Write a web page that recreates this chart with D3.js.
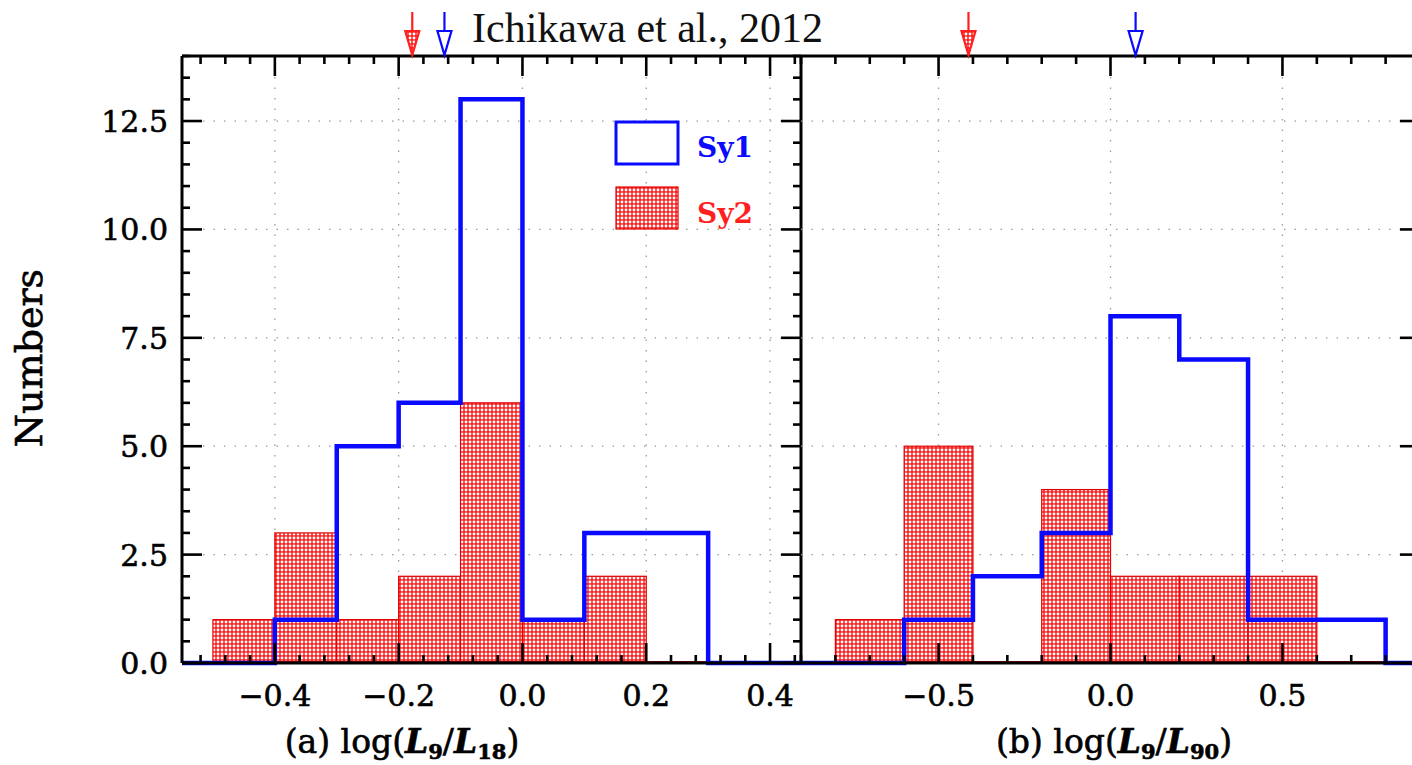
<!DOCTYPE html>
<html>
<head>
<meta charset="utf-8">
<script src="https://cdn.jsdelivr.net/npm/d3@7"></script>
<style>
  html, body { margin: 0; padding: 0; background: #fff; overflow: hidden; }
  svg { display: block; }
</style>
</head>
<body>
<svg id="chart" width="1412" height="765"></svg>
<script>
// ---- data ----
// panel (a): log(L9/L18), bin width 0.1
const edgesA = [-0.5, -0.4, -0.3, -0.2, -0.1, 0.0, 0.1, 0.2, 0.3];
const sy1A   = [0, 1, 5, 6, 13, 1, 3, 3];
const sy2A   = [1, 3, 1, 2, 6, 1, 2, 0];
// panel (b): log(L9/L90), bin width 0.2
const edgesB = [-0.8, -0.6, -0.4, -0.2, 0.0, 0.2, 0.4, 0.6, 0.8];
const sy1B   = [0, 1, 2, 3, 8, 7, 1, 1];
const sy2B   = [1, 5, 0, 4, 2, 2, 2, 0];
// mean values marked by arrows on the top axis
const meanA = { sy1: -0.126, sy2: -0.178 };
const meanB = { sy1: 0.073, sy2: -0.413 };
// axis ticks
const yMajor = [0, 2.5, 5, 7.5, 10, 12.5];
const xMajorA = [-0.4, -0.2, 0.0, 0.2, 0.4];
const xMajorB = [-0.5, 0.0, 0.5];

const BLUE = "#0a0aff", RED = "#ff1f1f", RED_EDGE = "#e00000";
const SERIF = "'DejaVu Serif', serif";

const svg = d3.select("#chart");

// dotted hatch for the Sy2 histogram
const defs = svg.append("defs");
const pat = defs.append("pattern").attr("id", "hatch")
  .attr("patternUnits", "userSpaceOnUse").attr("width", 4).attr("height", 4);
pat.append("rect").attr("width", 4).attr("height", 4).attr("fill", RED);
pat.append("circle").attr("cx", 2).attr("cy", 2).attr("r", 1.45).attr("fill", "#fff");

const yTop = 56, yBot = 663;
const y = d3.scaleLinear().domain([0, 14]).range([yBot, yTop]);

const panels = [
  { x: d3.scaleLinear().domain([-0.55, 0.45]).range([182, 801]),
    edges: edgesA, sy1: sy1A, sy2: sy2A, mean: meanA, major: xMajorA,
    minorStep: 0.04, ticksLeft: true, labelX: 402, label: ["(a) log(", "9", "18"] },
  { x: d3.scaleLinear().domain([-0.9, 0.9]).range([801, 1420]),
    edges: edgesB, sy1: sy1B, sy2: sy2B, mean: meanB, major: xMajorB,
    minorStep: 0.1, ticksLeft: false, labelX: 1114, label: ["(b) log(", "9", "90"] }
];

function minorTicks(domain, step) {
  const out = [];
  const k0 = Math.ceil(domain[0] / step - 1e-9), k1 = Math.floor(domain[1] / step + 1e-9);
  for (let k = k0; k <= k1; k++) out.push(+(k * step).toFixed(6));
  return out;
}
const yMinor = minorTicks([0, 14], 0.5);

// slightly heavier text strokes
const heavy = sel => sel.attr("stroke", "currentColor").attr("stroke-width", 0.6);

panels.forEach(p => {
  const x = p.x;
  const [x0, x1] = x.range();
  const g = svg.append("g");

  // dotted grid at major ticks
  g.selectAll(".gy").data(yMajor.filter(v => v > 0)).join("line")
    .attr("x1", x0).attr("x2", x1).attr("y1", d => y(d)).attr("y2", d => y(d))
    .attr("stroke", "#9a9a9a").attr("stroke-width", 1.3).attr("stroke-dasharray", "1.5,9");
  g.selectAll(".gx").data(p.major).join("line")
    .attr("x1", d => x(d)).attr("x2", d => x(d)).attr("y1", yTop).attr("y2", yBot)
    .attr("stroke", "#9a9a9a").attr("stroke-width", 1.3).attr("stroke-dasharray", "1.5,9");

  // Sy2: hatched bars
  const bins = p.sy2.map((v, i) => ({ a: p.edges[i], b: p.edges[i + 1], v }));
  g.selectAll(".bar").data(bins.filter(d => d.v > 0)).join("rect")
    .attr("x", d => x(d.a)).attr("width", d => x(d.b) - x(d.a))
    .attr("y", d => y(d.v)).attr("height", d => y(0) - y(d.v))
    .attr("fill", "url(#hatch)").attr("stroke", RED_EDGE).attr("stroke-width", 1.2);
  g.append("line")
    .attr("x1", x(p.edges[0])).attr("x2", x(p.edges[p.edges.length - 1]))
    .attr("y1", y(0) - 1).attr("y2", y(0) - 1)
    .attr("stroke", "#a01010").attr("stroke-width", 2);

  // Sy1: open step outline running along the whole axis
  const pts = [[x.domain()[0], 0]];
  p.sy1.forEach((v, i) => pts.push([p.edges[i], v]));
  pts.push([p.edges[p.edges.length - 1], 0]);
  pts.push([x.domain()[1], 0]);
  const step = d3.line().x(d => x(d[0])).y(d => y(d[1])).curve(d3.curveStepAfter);
  g.append("path").attr("d", step(pts))
    .attr("fill", "none").attr("stroke", BLUE).attr("stroke-width", 4.5)
    .attr("stroke-linejoin", "miter");

  // frame
  const ax = g.append("g").attr("stroke", "#000").attr("stroke-width", 3);
  ax.append("line").attr("x1", x0).attr("x2", x1).attr("y1", yTop).attr("y2", yTop);
  ax.append("line").attr("x1", x0).attr("x2", x1).attr("y1", yBot).attr("y2", yBot);
  ax.append("line").attr("x1", x1).attr("x2", x1).attr("y1", yTop).attr("y2", yBot);
  if (p.ticksLeft) ax.append("line").attr("x1", x0).attr("x2", x0).attr("y1", yTop).attr("y2", yBot);

  // x ticks, bottom and top
  const xMinor = minorTicks(x.domain(), p.minorStep)
    .filter(v => !p.major.some(m => Math.abs(m - v) < 1e-6));
  const tk = g.append("g").attr("stroke", "#000").attr("stroke-width", 2.6);
  p.major.forEach(v => {
    tk.append("line").attr("x1", x(v)).attr("x2", x(v)).attr("y1", yBot).attr("y2", yBot - 20);
    tk.append("line").attr("x1", x(v)).attr("x2", x(v)).attr("y1", yTop).attr("y2", yTop + 20);
  });
  xMinor.forEach(v => {
    tk.append("line").attr("x1", x(v)).attr("x2", x(v)).attr("y1", yBot).attr("y2", yBot - 8);
    tk.append("line").attr("x1", x(v)).attr("x2", x(v)).attr("y1", yTop).attr("y2", yTop + 8);
  });
  // y ticks: left panel on both sides, right panel on its right edge
  const ySides = p.ticksLeft ? [[x0, 1], [x1, -1]] : [[x1, -1]];
  ySides.forEach(([xx, dir]) => {
    yMajor.forEach(v => tk.append("line").attr("x1", xx).attr("x2", xx + dir * 20).attr("y1", y(v)).attr("y2", y(v)));
    yMinor.filter(v => v % 2.5 !== 0).forEach(v =>
      tk.append("line").attr("x1", xx).attr("x2", xx + dir * 8).attr("y1", y(v)).attr("y2", y(v)));
  });

  // x tick labels
  const fmt = v => (v < 0 ? "\u2212" : "") + d3.format(".1f")(Math.abs(v));
  g.selectAll(".xl").data(p.major).join("text")
    .attr("x", d => x(d)).attr("y", 706).attr("text-anchor", "middle")
    .style("font-family", SERIF).attr("font-size", 30).attr("fill", "#000").attr("color", "#000")
    .call(heavy).text(fmt);

  // axis title with italic L and subscripts
  const t = g.append("text").attr("x", p.labelX)
    .attr("y", 753).attr("text-anchor", "middle").style("font-family", SERIF)
    .attr("font-size", 33).attr("fill", "#000").attr("color", "#000").call(heavy);
  t.append("tspan").text(p.label[0]);
  t.append("tspan").attr("font-style", "italic").attr("font-weight", "bold").text("L");
  t.append("tspan").attr("font-size", 21).attr("font-weight", "bold").attr("dy", 6).text(p.label[1]);
  t.append("tspan").attr("dy", -6).text("/");
  t.append("tspan").attr("font-style", "italic").attr("font-weight", "bold").text("L");
  t.append("tspan").attr("font-size", 21).attr("font-weight", "bold").attr("dy", 6).text(p.label[2]);
  t.append("tspan").attr("dy", -6).text(")");

  // mean markers above the top axis
  const arrow = (xv, color, filled) => {
    const a = svg.append("g");
    a.append("line").attr("x1", xv).attr("x2", xv).attr("y1", 12).attr("y2", 33)
      .attr("stroke", color).attr("stroke-width", 2.2);
    a.append("path").attr("d", `M${xv - 7},31 L${xv + 7},31 L${xv},55 Z`)
      .attr("fill", filled ? "url(#hatch)" : "#fff").attr("stroke", color).attr("stroke-width", 2.2)
      .attr("stroke-linejoin", "miter");
  };
  arrow(x(p.mean.sy2), RED, true);
  arrow(x(p.mean.sy1), BLUE, false);
});

// y tick labels
svg.selectAll(".yl").data(yMajor).join("text")
  .attr("x", 168).attr("y", d => y(d) + 11).attr("text-anchor", "end")
  .style("font-family", SERIF).attr("font-size", 30).attr("fill", "#000").attr("color", "#000")
  .call(heavy).text(d => d3.format(".1f")(d));

// y axis title
svg.append("text").attr("transform", "translate(42,358) rotate(-90)")
  .attr("text-anchor", "middle").style("font-family", SERIF).attr("font-size", 38)
  .attr("fill", "#000").attr("color", "#000").call(heavy).text("Numbers");

// legend
svg.append("rect").attr("x", 616).attr("y", 122).attr("width", 62).attr("height", 42)
  .attr("fill", "#fff").attr("stroke", BLUE).attr("stroke-width", 3);
svg.append("text").attr("x", 697).attr("y", 157).style("font-family", SERIF)
  .attr("font-size", 28).attr("font-weight", "bold").attr("fill", BLUE).text("Sy1");
svg.append("rect").attr("x", 616).attr("y", 187).attr("width", 62).attr("height", 42)
  .attr("fill", "url(#hatch)").attr("stroke", RED_EDGE).attr("stroke-width", 1.2);
svg.append("text").attr("x", 697).attr("y", 223).style("font-family", SERIF)
  .attr("font-size", 28).attr("font-weight", "bold").attr("fill", RED).text("Sy2");

// citation
svg.append("text").attr("x", 472).attr("y", 42).style("font-family", "'Liberation Serif', serif")
  .attr("font-size", 42).attr("fill", "#111").text("Ichikawa et al., 2012");
</script>
</body>
</html>
